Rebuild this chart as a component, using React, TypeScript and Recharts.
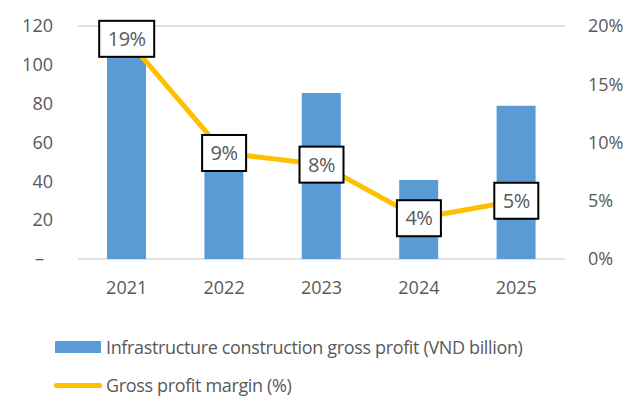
import { ComposedChart, Bar, Line, XAxis, YAxis, CartesianGrid, Legend, LabelList } from 'recharts'

document.body.style.margin = '0'

const years = ['2021', '2022', '2023', '2024', '2025']
const grossProfit = [108, 50, 85.5, 40.7, 78.9] // VND billion
const marginPct = [18.9, 9.1, 8.1, 3.5, 5.0] // %
const leftTicks = [0, 20, 40, 60, 80, 100, 120]
const rightTicks = [0, 5, 10, 15, 20]

const BAR_COLOR = '#5B9BD5'
const LINE_COLOR = '#FFC000'
const TEXT_COLOR = '#595959'
const FONT = '"Open Sans", sans-serif'
const FS = 18

const data = years.map((year, i) => ({
  year,
  profit: grossProfit[i],
  margin: marginPct[i],
}))

const LeftTick = (props: any) => {
  const { x, y, payload } = props
  const v = payload.value
  return (
    <text
      x={v === 0 ? x - 9 : x}
      y={y}
      dy="0.35em"
      textAnchor="end"
      fill={TEXT_COLOR}
      fontSize={FS}
      fontFamily={FONT}
    >
      {v === 0 ? '–' : v}
    </text>
  )
}

const MarginLabel = (props: any) => {
  const { x, y, value } = props
  const text = `${Math.round(value)}%`
  const w = text.length * 11 + 22
  const h = 36
  return (
    <g>
      <rect x={x - w / 2} y={y - h / 2} width={w} height={h} fill="#fff" stroke="#000" strokeWidth={2} />
      <text
        x={x}
        y={y}
        dy="0.36em"
        textAnchor="middle"
        fill={TEXT_COLOR}
        fontSize={20}
        fontFamily={FONT}
        letterSpacing={-0.5}
      >
        {text}
      </text>
    </g>
  )
}

const LegendContent = () => (
  <div
    style={{
      fontFamily: FONT,
      fontSize: FS,
      color: TEXT_COLOR,
      letterSpacing: '-0.35px',
      paddingLeft: 54,
      height: 90,
    }}
  >
    <div style={{ display: 'flex', alignItems: 'center', height: 24, marginTop: 24 }}>
      <span style={{ width: 46, height: 12, background: BAR_COLOR, marginRight: 5, marginLeft: 1 }} />
      <span>Infrastructure construction gross profit (VND billion)</span>
    </div>
    <div style={{ display: 'flex', alignItems: 'center', height: 24, marginTop: 14 }}>
      <span style={{ width: 48, height: 5, background: LINE_COLOR, borderRadius: 3, marginRight: 4 }} />
      <span>Gross profit margin (%)</span>
    </div>
  </div>
)

export default function App() {
  return (
    <ComposedChart
      width={643}
      height={401}
      data={data}
      margin={{ top: 26, right: 0, bottom: 0, left: 0 }}
    >
      <CartesianGrid vertical={false} stroke="#D9D9D9" strokeWidth={1.5} />
      <XAxis
        dataKey="year"
        axisLine={false}
        tickLine={false}
        tickSize={0}
        tickMargin={22}
        height={52}
        tick={{ fill: TEXT_COLOR, fontSize: FS, fontFamily: FONT }}
      />
      <YAxis
        yAxisId="left"
        domain={[0, 120]}
        ticks={leftTicks}
        width={78}
        axisLine={false}
        tickLine={false}
        tickSize={0}
        tickMargin={25}
        tick={<LeftTick />}
      />
      <YAxis
        yAxisId="right"
        orientation="right"
        domain={[0, 20]}
        ticks={rightTicks}
        width={78}
        axisLine={false}
        tickLine={false}
        tickSize={0}
        tickMargin={23}
        tickFormatter={(v) => `${v}%`}
        tick={{ fill: TEXT_COLOR, fontSize: FS, fontFamily: FONT, textAnchor: 'start' }}
      />
      <Bar yAxisId="left" dataKey="profit" fill={BAR_COLOR} barSize={39} isAnimationActive={false} />
      <Line
        yAxisId="right"
        dataKey="margin"
        stroke={LINE_COLOR}
        strokeWidth={5}
        dot={false}
        activeDot={false}
        isAnimationActive={false}
      >
        <LabelList dataKey="margin" content={<MarginLabel />} />
      </Line>
      <Legend verticalAlign="bottom" align="left" content={<LegendContent />} wrapperStyle={{ height: 90 }} />
    </ComposedChart>
  )
}
